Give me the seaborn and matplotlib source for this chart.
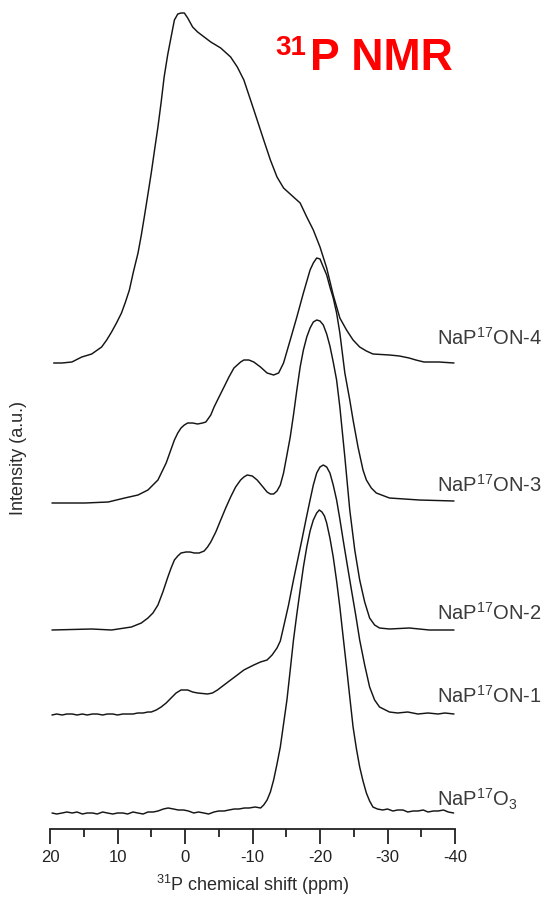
import numpy as np
import pandas as pd
import matplotlib
matplotlib.use("Agg")
import matplotlib.pyplot as plt
import seaborn as sns

# ---- spectra: chemical shift (ppm) and intensity (a.u.) ----
on4_ppm = [19.46, 18.24, 16.76, 15.29, 13.82, 12.35, 11.6, 10.88, 10.15, 9.41,
           8.82, 8.24, 7.65, 6.96, 6.47, 6.03, 5.51, 5.0, 4.51, 4.01,
           3.53, 3.09, 2.57, 2.06, 1.57, 1.07, 0.59, 0.1, -0.4, -1.13,
           -1.87, -2.84, -3.82, -5.29, -6.76, -7.75, -8.72, -9.71, -10.69, -11.66,
           -12.65, -13.63, -14.6, -16.07, -17.06, -18.04, -19.01, -20.0, -20.99, -21.96,
           -22.94, -23.93, -24.9, -25.88, -26.87, -27.84, -30.3, -31.76, -33.2, -34.2,
           -35.4, -37.6, -39.85]
on4_int = [0, 0, 1, 6, 9, 16, 23, 31, 40, 50,
           61, 73, 91, 110, 128, 146, 168, 190, 213, 236,
           261, 286, 308, 326, 343, 349, 350, 350, 345, 336,
           331, 326, 321, 315, 306, 296, 283, 263, 243, 223,
           203, 186, 175, 166, 160, 146, 133, 116, 95, 68,
           45, 33, 23, 16, 12, 9, 8, 7, 5, 3,
           1, 1, 0]

on3_ppm = [19.71, 14.81, 11.37, 8.93, 6.96, 5.49, 4.01, 2.79, 1.57, 1.07,
           0.59, 0.1, -0.4, -1.13, -1.87, -2.6, -3.09, -3.82, -4.31, -5.04,
           -5.78, -6.51, -7.25, -8.24, -8.72, -9.46, -10.19, -11.18, -12.16, -13.13,
           -13.87, -14.6, -15.59, -16.57, -17.54, -18.53, -19.01, -19.51, -20.0, -20.49,
           -20.99, -21.47, -21.96, -22.46, -22.94, -23.68, -24.41, -24.9, -25.63, -26.37,
           -26.87, -27.6, -28.34, -30.29, -34.7, -39.85]
on3_int = [0, 0, 1, 5, 8, 13, 23, 40, 63, 70,
           75, 78, 80, 80, 79, 80, 81, 88, 96, 106,
           116, 126, 135, 141, 143, 143, 141, 136, 130, 128,
           130, 140, 163, 186, 210, 233, 240, 245, 244, 236,
           228, 216, 205, 190, 170, 130, 103, 83, 56, 33,
           23, 15, 10, 5, 3, 2]

on2_ppm = [19.71, 13.82, 10.88, 7.94, 6.47, 5.49, 4.75, 4.01, 3.28, 2.54,
           2.06, 1.57, 1.07, 0.59, -0.15, -0.74, -1.37, -2.1, -2.84, -3.34,
           -3.82, -4.56, -5.29, -6.03, -6.76, -7.5, -8.24, -8.72, -9.22, -9.96,
           -10.69, -11.43, -12.16, -12.65, -13.13, -13.63, -14.12, -14.6, -15.1, -15.59,
           -16.07, -16.57, -17.06, -17.54, -18.04, -18.53, -19.01, -19.51, -20.0, -20.49,
           -20.99, -21.47, -21.96, -22.46, -22.94, -23.68, -24.41, -25.15, -25.88, -26.62,
           -27.35, -28.09, -28.82, -30.29, -33.24, -36.18, -39.85]
on2_int = [0, 1, 0, 3, 7, 12, 17, 25, 38, 53,
           62, 70, 74, 77, 78, 78, 77, 77, 79, 83,
           88, 98, 110, 122, 133, 143, 150, 153, 155, 154,
           150, 144, 138, 136, 136, 139, 145, 157, 175, 193,
           215, 240, 263, 280, 293, 302, 308, 310, 309, 305,
           296, 284, 268, 250, 223, 173, 120, 80, 50, 28,
           12, 5, 2, 1, 2, 0, 0]

on1_ppm = [19.71, 19.0, 18.2, 17.5, 16.7, 16.0, 15.2, 14.5, 13.7, 13.0,
           12.2, 11.5, 10.7, 10.0, 9.2, 8.5, 7.7, 7.0, 6.2, 5.5,
           5.0, 4.26, 3.53, 2.79, 2.06, 1.32, 0.59, -0.4, -1.13, -1.87,
           -3.34, -4.07, -4.81, -5.78, -6.76, -7.75, -8.72, -10.19, -11.18, -12.16,
           -12.9, -13.63, -14.12, -14.6, -15.34, -16.07, -16.69, -17.31, -17.94, -18.53,
           -19.01, -19.51, -20.0, -20.49, -20.99, -21.47, -21.96, -22.46, -22.94, -23.43,
           -24.04, -24.66, -25.29, -25.88, -26.62, -27.35, -28.09, -28.82, -30.29, -31.5,
           -33.0, -34.5, -36.0, -37.5, -38.5, -39.85]
on1_int = [0, 1, 0, 1, 1, 0, 1, 0, 1, 1,
           0, 1, 1, 0, 1, 1, 1, 2, 2, 3,
           3, 5, 8, 12, 17, 22, 25, 25, 23, 22,
           21, 22, 25, 30, 35, 40, 45, 50, 53, 55,
           60, 67, 74, 88, 110, 135, 155, 175, 196, 215,
           230, 242, 248, 250, 248, 242, 230, 215, 196, 175,
           150, 125, 100, 75, 50, 28, 15, 8, 3, 2,
           3, 1, 2, 1, 2, 1]

o3_ppm = [19.7, 19.0, 18.2, 17.5, 16.7, 16.0, 15.2, 14.5, 13.7, 13.0,
          12.2, 11.5, 10.7, 10.0, 9.2, 8.5, 7.7, 7.0, 6.2, 5.5,
          4.7, 4.0, 3.2, 2.5, 1.7, 1.0, 0.2, -0.5, -1.3, -2.0,
          -2.8, -3.5, -4.3, -5.0, -5.8, -6.5, -7.3, -8.0, -8.8, -9.5,
          -10.4, -11.2, -11.66, -12.16, -12.65, -13.13, -13.63, -14.12, -14.6, -15.1,
          -15.59, -16.07, -16.57, -17.06, -17.54, -18.04, -18.53, -19.01, -19.51, -19.9,
          -20.29, -20.66, -20.99, -21.47, -21.96, -22.46, -22.94, -23.43, -23.93, -24.41,
          -24.9, -25.4, -25.88, -26.37, -26.87, -27.35, -27.84, -28.5, -29.3, -30.0,
          -30.8, -31.5, -32.3, -33.0, -33.8, -34.5, -35.3, -36.0, -36.8, -37.5,
          -38.3, -39.0, -39.8]
o3_int = [1, 0, 1, 2, 1, 2, 0, 1, 1, 0,
          2, 1, 0, 1, 1, 0, 2, 1, 0, 2,
          2, 3, 5, 6, 5, 4, 4, 3, 1, 2,
          1, 0, 2, 3, 3, 4, 5, 5, 6, 6,
          7, 6, 9, 14, 22, 34, 50, 67, 90, 114,
          144, 174, 200, 224, 247, 267, 283, 294, 301, 304,
          302, 298, 291, 276, 257, 233, 207, 177, 147, 117,
          87, 65, 47, 33, 21, 13, 7, 5, 4, 5,
          3, 4, 4, 2, 3, 3, 4, 2, 3, 3,
          4, 2, 1]

samples = ["NaP$^{17}$ON-4", "NaP$^{17}$ON-3", "NaP$^{17}$ON-2",
           "NaP$^{17}$ON-1", "NaP$^{17}$O$_3$"]
spectra = [(on4_ppm, on4_int), (on3_ppm, on3_int), (on2_ppm, on2_int),
           (on1_ppm, on1_int), (o3_ppm, o3_int)]

# vertical stacking of the traces and label baselines (a.u.)
offsets = [466, 326, 199, 114, 15]
label_y = [484, 337, 209, 126, 22]

frames = []
for name, (ppm, inten), off in zip(samples, spectra, offsets):
    frames.append(pd.DataFrame({"shift": ppm,
                                "signal": np.asarray(inten, float) + off,
                                "sample": name}))
df = pd.concat(frames, ignore_index=True)

sns.set_style("white")
plt.rcParams["font.family"] = ["Liberation Sans", "DejaVu Sans"]
plt.rcParams["mathtext.fontset"] = "custom"
plt.rcParams["mathtext.rm"] = "Liberation Sans"
plt.rcParams["mathtext.it"] = "Liberation Sans:italic"
plt.rcParams["mathtext.bf"] = "Liberation Sans:bold"

fig = plt.figure(figsize=(5.52, 9.0), dpi=100)
ax = fig.add_axes([50 / 552, 71 / 900, 405 / 552, 829 / 900])

for name in samples:
    sns.lineplot(data=df[df["sample"] == name], x="shift", y="signal",
                 sort=False, estimator=None, color="#151515", lw=1.05, ax=ax)

ax.set_xlim(20, -40)
ax.set_ylim(0, 829)
ax.set_xticks([20, 10, 0, -10, -20, -30, -40])
ax.set_xticklabels(["20", "10", "0", "-10", "-20", "-30", "-40"])
ax.set_xticks([15, 5, -5, -15, -25, -35], minor=True)
ax.set_yticks([])
ax.set_xlabel("")
ax.set_ylabel("")
for side in ("left", "right", "top"):
    ax.spines[side].set_visible(False)
ax.spines["bottom"].set_color("#222222")
ax.spines["bottom"].set_linewidth(1.3)
ax.tick_params(axis="x", which="both", bottom=True, top=False)
ax.tick_params(axis="x", which="major", direction="out", length=11, width=1.3,
               colors="#222222", labelsize=12, pad=4)
ax.tick_params(axis="x", which="minor", direction="out", length=6, width=1.3,
               colors="#222222")
ax.patch.set_alpha(0)

for name, y in zip(samples, label_y):
    ax.text(-37.3, y, name, ha="left", va="baseline", fontsize=14.5,
            color="#3a3a3a")

fig.text(253 / 552, 1 - 885 / 900, "$^{31}$P chemical shift (ppm)",
         ha="center", va="center", fontsize=13, color="#2a2a2a")
fig.text(19 / 552, 1 - 458 / 900, "Intensity (a.u.)", rotation=90,
         ha="center", va="center", fontsize=13, color="#2a2a2a")

fig.text(275 / 552, 1 - 55 / 900, "31", ha="left", va="baseline",
         fontsize=20, fontweight="bold", color="#ff0000")
fig.text(310 / 552, 1 - 70 / 900, "P NMR", ha="left", va="baseline",
         fontsize=32, fontweight="bold", color="#ff0000")

fig.savefig("out.png", dpi=100, facecolor="white")
